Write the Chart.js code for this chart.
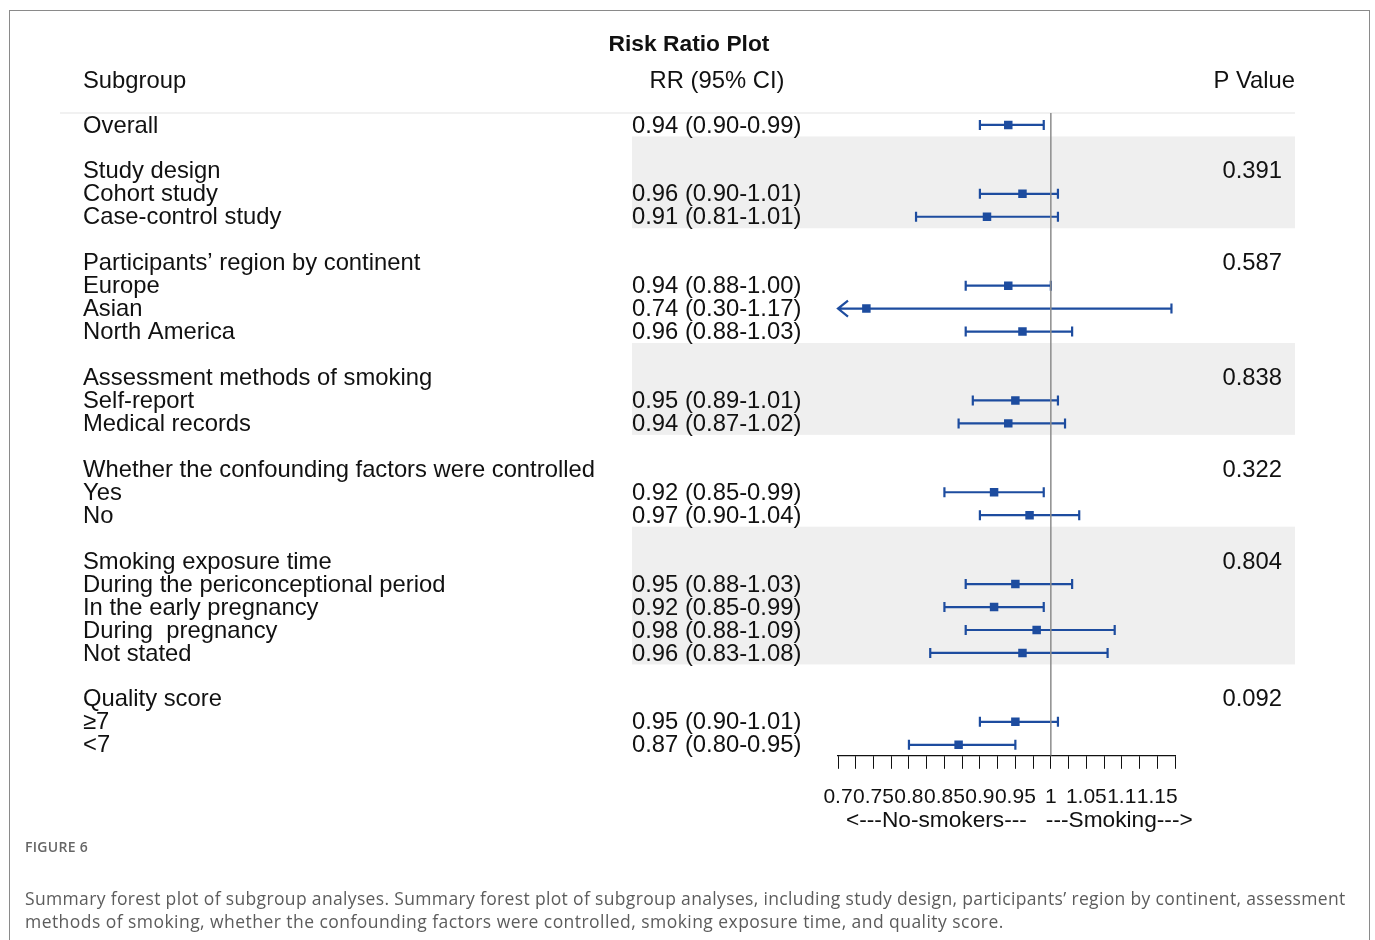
<!DOCTYPE html>
<html>
<head>
<meta charset="utf-8">
<script src="https://cdn.jsdelivr.net/npm/chart.js@4.4.1/dist/chart.umd.min.js"></script>
<style>
  body { margin: 0; background: #fff; }
  #page { position: relative; width: 1375px; height: 940px; overflow: hidden; }
  #frame { position: absolute; left: 9px; top: 10px; width: 1359px; height: 960px; border: 1px solid #8a8a8a; }
  #plot { position: absolute; left: 0; top: 0; }
  #figlabel { position: absolute; left: 25px; top: 837px; font: 600 14px "Open Sans", sans-serif; color: #666; letter-spacing: 0.3px; }
  .cap { position: absolute; left: 25px; font: 17.5px "Open Sans", sans-serif; color: #5c5c5c; white-space: nowrap; letter-spacing: 0.45px; }
  #cap1 { top: 886px; letter-spacing: 0.345px; }
  #cap2 { top: 909px; }
</style>
</head>
<body>
<div id="page">
  <div id="frame"></div>
  <canvas id="plot" width="1375" height="940"></canvas>
  <div id="figlabel">FIGURE 6</div>
  <div class="cap" id="cap1">Summary forest plot of subgroup analyses. Summary forest plot of subgroup analyses, including study design, participants’ region by continent, assessment</div>
  <div class="cap" id="cap2">methods of smoking, whether the confounding factors were controlled, smoking exposure time, and quality score.</div>
</div>
<script>
// one entry per row of the table (blank rows separate the groups)
const rowLabels = ['Overall', '', 'Study design', 'Cohort study', 'Case-control study', '',
    'Participants’ region by continent', 'Europe', 'Asian', 'North America', '',
    'Assessment methods of smoking', 'Self-report', 'Medical records', '',
    'Whether the confounding factors were controlled', 'Yes', 'No', '',
    'Smoking exposure time', 'During the periconceptional period', 'In the early pregnancy', 'During  pregnancy', 'Not stated', '',
    'Quality score', '≥7', '<7'];
const rr    = [0.94, null, null, 0.96, 0.91, null, null, 0.94, 0.74, 0.96, null, null, 0.95, 0.94, null, null, 0.92, 0.97, null, null, 0.95, 0.92, 0.98, 0.96, null, null, 0.95, 0.87];
const lower = [0.90, null, null, 0.90, 0.81, null, null, 0.88, 0.30, 0.88, null, null, 0.89, 0.87, null, null, 0.85, 0.90, null, null, 0.88, 0.85, 0.88, 0.83, null, null, 0.90, 0.80];
const upper = [0.99, null, null, 1.01, 1.01, null, null, 1.00, 1.17, 1.03, null, null, 1.01, 1.02, null, null, 0.99, 1.04, null, null, 1.03, 0.99, 1.09, 1.08, null, null, 1.01, 0.95];
const pValues = ['', '', '0.391', '', '', '', '0.587', '', '', '', '', '0.838', '', '', '', '0.322', '', '', '', '0.804', '', '', '', '', '', '0.092', '', ''];
// shaded groups, in row units
const bands = [[0.5, 4.5], [9.5, 13.5], [17.5, 23.5]];
const tickValues = [0.7, 0.725, 0.75, 0.775, 0.8, 0.825, 0.85, 0.875, 0.9, 0.925, 0.95, 0.975, 1, 1.025, 1.05, 1.075, 1.1, 1.125, 1.15, 1.175];
const tickLabels = ['0.7', '', '0.75', '', '0.8', '', '0.85', '', '0.9', '', '0.95', '', '1', '', '1.05', '', '1.1', '', '1.15', ''];

const blue = '#1d4c9f';
const FONT = '"Liberation Sans", Arial, sans-serif';
Chart.defaults.font.family = FONT;

const points = [];
rr.forEach((v, i) => { if (v !== null) points.push({ x: v, y: i }); });

const tablePlugin = {
    id: 'table',
    beforeDraw(chart) {
        const ctx = chart.ctx, y = chart.scales.y;
        ctx.save();
        ctx.fillStyle = '#efefef';
        bands.forEach(b => {
            const y1 = y.getPixelForValue(b[0]), y2 = y.getPixelForValue(b[1]);
            ctx.fillRect(632, y1, 1295 - 632, y2 - y1);
        });
        ctx.strokeStyle = '#ececec';
        ctx.lineWidth = 1.5;
        ctx.beginPath();
        ctx.moveTo(60, chart.chartArea.top);
        ctx.lineTo(1295, chart.chartArea.top);
        ctx.stroke();
        ctx.restore();
    },
    beforeDatasetsDraw(chart) {
        // confidence interval whiskers
        const ctx = chart.ctx, x = chart.scales.x, y = chart.scales.y;
        ctx.save();
        ctx.strokeStyle = blue;
        ctx.lineWidth = 2.2;
        rr.forEach((v, i) => {
            if (v === null) return;
            const py = y.getPixelForValue(i);
            const lo = Math.max(lower[i], x.min), hi = Math.min(upper[i], x.max);
            const x1 = x.getPixelForValue(lo), x2 = x.getPixelForValue(hi);
            ctx.beginPath();
            ctx.moveTo(x1, py); ctx.lineTo(x2, py);
            if (lower[i] >= x.min) { ctx.moveTo(x1, py - 5); ctx.lineTo(x1, py + 5); }
            else { ctx.moveTo(x1 + 10, py - 8); ctx.lineTo(x1, py); ctx.lineTo(x1 + 10, py + 8); }
            if (upper[i] <= x.max) { ctx.moveTo(x2, py - 5); ctx.lineTo(x2, py + 5); }
            else { ctx.moveTo(x2 - 10, py - 8); ctx.lineTo(x2, py); ctx.lineTo(x2 - 10, py + 8); }
            ctx.stroke();
        });
        ctx.restore();
    },
    afterDraw(chart) {
        const ctx = chart.ctx, x = chart.scales.x, y = chart.scales.y;
        ctx.save();
        ctx.fillStyle = '#111';
        ctx.textBaseline = 'middle';
        ctx.font = 'bold 22.8px ' + FONT;
        ctx.textAlign = 'center';
        ctx.fillText('Risk Ratio Plot', 689, 45);
        ctx.font = '23.8px ' + FONT;
        ctx.fillText('RR (95% CI)', 717, 81);
        ctx.textAlign = 'left';
        ctx.fillText('Subgroup', 83, 81);
        ctx.textAlign = 'right';
        ctx.fillText('P Value', 1295, 81);
        rowLabels.forEach((lab, i) => {
            const py = y.getPixelForValue(i) + 1;
            ctx.textAlign = 'left';
            ctx.fillText(lab, 83, py);
            if (rr[i] !== null) {
                ctx.fillText(rr[i].toFixed(2) + ' (' + lower[i].toFixed(2) + '-' + upper[i].toFixed(2) + ')', 632, py);
            }
            ctx.textAlign = 'right';
            ctx.fillText(pValues[i], 1282, py);
        });
        // direction labels under the axis
        const ref = x.getPixelForValue(1);
        ctx.font = '22.7px ' + FONT;
        ctx.textAlign = 'right';
        ctx.fillText('<---No-smokers---', ref - 24, 821);
        ctx.textAlign = 'left';
        ctx.fillText('---Smoking--->', ref - 5, 821);
        ctx.restore();
    }
};

new Chart(document.getElementById('plot').getContext('2d'), {
    type: 'scatter',
    data: {
        datasets: [{
            data: points,
            order: 0,
            pointStyle: 'rect',
            pointRadius: 6,
            pointHoverRadius: 6,
            backgroundColor: blue,
            borderColor: blue,
            borderWidth: 0
        }, {
            data: [{ x: 1, y: -0.52 }, { x: 1, y: 27.48 }],
            order: 1,
            showLine: true,
            pointRadius: 0,
            borderColor: '#8c8c8c',
            borderWidth: 1.5
        }]
    },
    options: {
        responsive: false,
        animation: false,
        events: [],
        layout: { padding: { left: 838, right: 200, top: 113, bottom: 114 } },
        plugins: { legend: { display: false }, tooltip: { enabled: false } },
        scales: {
            x: {
                type: 'linear',
                min: 0.7,
                max: 1.175,
                afterBuildTicks: axis => { axis.ticks = tickValues.map(v => ({ value: v })); },
                grid: { drawOnChartArea: false, drawTicks: true, tickLength: 13, color: '#111', lineWidth: 1 },
                border: { display: true, color: '#111', width: 1.2 },
                ticks: {
                    autoSkip: false,
                    maxRotation: 0,
                    padding: 16,
                    color: '#111',
                    font: { size: 21 },
                    callback: (val, idx) => tickLabels[idx]
                }
            },
            y: {
                type: 'linear',
                display: false,
                reverse: true,
                min: -0.52,
                max: 27.48
            }
        }
    },
    plugins: [tablePlugin]
});
</script>
</body>
</html>
